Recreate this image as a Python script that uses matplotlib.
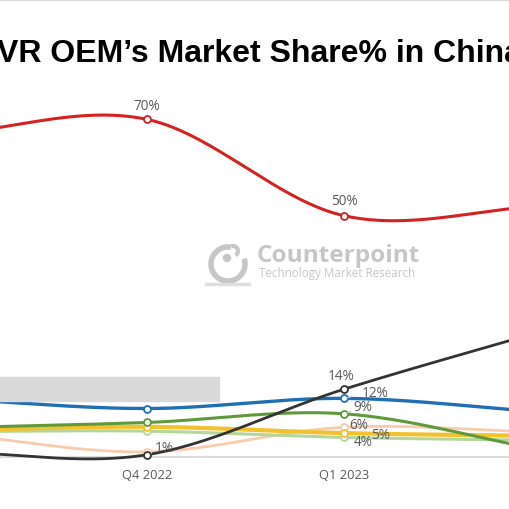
import numpy as np
import matplotlib.pyplot as plt
from matplotlib.patches import Rectangle, Arc, Circle
from matplotlib.lines import Line2D

# --- data (quarters, share %) ---
quarters = ["Q3 2022", "Q4 2022", "Q1 2023", "Q2 2023"]
red = [67, 70, 50, 52]
black = [1.0, 0.4, 14, 26]
blue = [12, 10, 12.1, 9.3]
green = [6, 7.1, 8.9, 1.4]
yellow = [5.5, 6.2, 4.9, 4.3]
light_green = [5.2, 5.3, 4.0, 3.4]
peach = [4.8, 1.0, 6.1, 5.1]

series = [
    ("peach", peach, "#f8cbad", 2.0),
    ("light_green", light_green, "#b5d69a", 2.2),
    ("yellow", yellow, "#f2c12e", 3.0),
    ("green", green, "#5e9a3c", 2.2),
    ("blue", blue, "#1f6fb2", 2.4),
    ("black", black, "#333333", 2.0),
    ("red", red, "#d42222", 2.2),
]

# which points get a data label, with offset in pixels (dx, dy)
label_pos = {
    ("red", 1): (0, 14), ("red", 2): (0, 15),
    ("blue", 1): (0, 14), ("blue", 2): (31, 6),
    ("black", 2): (-3, 14),
    ("green", 2): (19, 7),
    ("peach", 2): (15, 3), ("peach", 1): (18, 4),
    ("yellow", 2): (37, -1),
    ("light_green", 2): (19, -4),
}
leaders = {("blue", 2), ("green", 2), ("light_green", 2)}


def smooth(y, n=60):
    """Catmull-Rom 平滑，类似 Excel 的平滑线"""
    y = np.asarray(y, dtype=float)
    k = len(y)
    m = np.zeros(k)
    m[0] = y[1] - y[0]
    m[-1] = y[-1] - y[-2]
    m[1:-1] = (y[2:] - y[:-2]) / 2
    xs, ys = [], []
    for i in range(k - 1):
        t = np.linspace(0, 1, n)
        h00 = 2 * t**3 - 3 * t**2 + 1
        h10 = t**3 - 2 * t**2 + t
        h01 = -2 * t**3 + 3 * t**2
        h11 = t**3 - t**2
        xs.append(i + t)
        ys.append(h00 * y[i] + h10 * m[i] + h01 * y[i + 1] + h11 * m[i + 1])
    return np.concatenate(xs), np.concatenate(ys)


fig = plt.figure(figsize=(5.1, 5.1), dpi=100)
ax = fig.add_axes([0, (510 - 457.7) / 510, 1, 457.7 / 510])

# 灰色遮挡条 & 顶部细线
fig.patches.append(Rectangle((0, (510 - 401.7) / 510), 219.3 / 510, 23.4 / 510,
                             transform=fig.transFigure, color="#d9d9d9", zorder=0))
fig.lines.append(Line2D([0, 1], [0.998, 0.998], transform=fig.transFigure,
                        color="#d9d9d9", lw=1.5))

# watermark
wm = "#c6c6c6"
fig.text(257 / 510, 1 - 256 / 510, "Counterpoint", fontsize=17.6, fontweight="bold",
         family="Open Sans", color=wm, ha="left", va="center")
fig.text(259 / 510, 1 - 274 / 510, "Technology Market Research", fontsize=8.4,
         family="Open Sans", color=wm, ha="left", va="center")
fig.patches.append(Arc((228 / 510, 1 - 265 / 510), 34 / 510, 34 / 510, theta1=80, theta2=378,
                       transform=fig.transFigure, color=wm, lw=4))
fig.patches.append(Arc((233 / 510, 1 - 252 / 510), 10 / 510, 10 / 510, theta1=-60, theta2=110,
                       transform=fig.transFigure, color=wm, lw=3))
fig.patches.append(Circle((227 / 510, 1 - 259 / 510), 3.5 / 510,
                          transform=fig.transFigure, color=wm))
fig.lines.append(Line2D([206 / 510, 249 / 510], [1 - 285 / 510, 1 - 285 / 510],
                        transform=fig.transFigure, color="#dedede", lw=2.5))

x = np.arange(len(quarters))
for name, vals, col, lw in series:
    sx, sy = smooth(vals)
    ax.plot(sx, sy, color=col, lw=lw, zorder=3, clip_on=False, solid_capstyle="round")
    ax.plot(x, vals, "o", ms=5, mfc="white", mec=col, mew=1.3, zorder=4, clip_on=False)
    for (nm, i), (dx, dy) in label_pos.items():
        if nm != name:
            continue
        ax.annotate(f"{round(vals[i])}%", xy=(x[i], vals[i]), xytext=(dx, dy),
                    textcoords="offset pixels", ha="center", va="center",
                    fontsize=9.8, color="#595959", family="Open Sans", zorder=5,
                    arrowprops=dict(arrowstyle="-", color="#bfbfbf", lw=0.8,
                                    shrinkA=6, shrinkB=2) if (nm, i) in leaders else None)

for s in ["top", "left", "right"]:
    ax.spines[s].set_visible(False)
ax.spines["bottom"].set_color("#dcdcdc")
ax.spines["bottom"].set_linewidth(1.5)
ax.spines["bottom"].set_zorder(1)
ax.set_yticks([])
ax.set_xticks(x[1:3])
ax.set_xticklabels(quarters[1:3], fontsize=9.3, color="#595959", family="Open Sans")
ax.tick_params(axis="x", length=0, pad=8)
ax.patch.set_alpha(0)
# 先设刻度再设范围，避免 set_xticks 扩展视图
ax.set_xlim(1 - 146.7 / 197.3, 2 + (510 - 344) / 197.3)
ax.set_ylim(0, 457.7 / 4.82)

fig.text(-0.006, 1 - 54 / 510, "VR OEM\u2019s Market Share% in China", fontsize=23,
         fontweight="bold", family="Liberation Sans", ha="left", va="center", color="black")

fig.savefig("out.png", dpi=100)
